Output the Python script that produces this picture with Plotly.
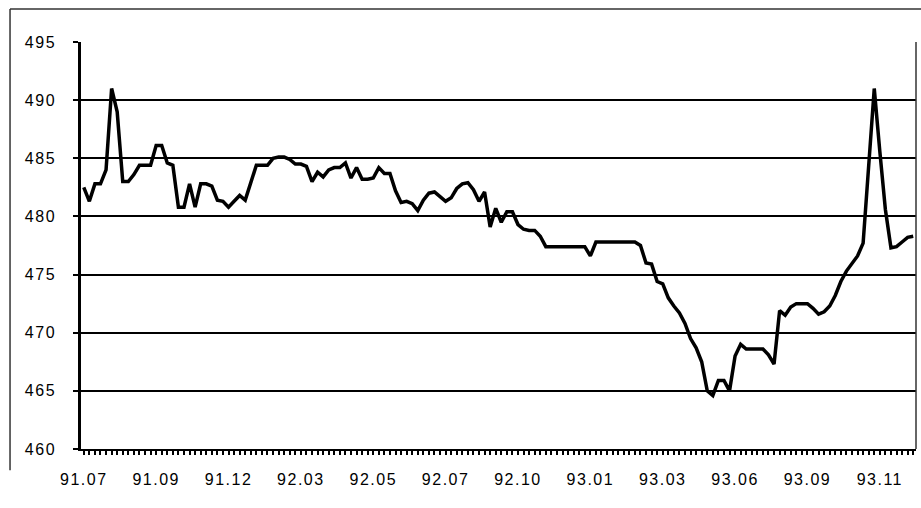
import plotly.graph_objects as go

# weekly index values
values = [
    482.5, 481.3, 482.8, 482.8, 484.0, 491.0, 489.0, 483.0, 483.0, 483.6,
    484.4, 484.4, 484.4, 486.1, 486.1, 484.6, 484.4, 480.8, 480.8, 482.8,
    480.8, 482.8, 482.8, 482.6, 481.4, 481.3, 480.8, 481.3, 481.8, 481.4,
    483.0, 484.4, 484.4, 484.4, 485.0, 485.1, 485.1, 484.9, 484.5, 484.5,
    484.3, 483.0, 483.8, 483.4, 484.0, 484.2, 484.2, 484.6, 483.3, 484.2,
    483.2, 483.2, 483.3, 484.2, 483.7, 483.7, 482.2, 481.2, 481.3, 481.1,
    480.5, 481.4, 482.0, 482.1, 481.7, 481.3, 481.6, 482.4, 482.8, 482.9,
    482.3, 481.3, 482.1, 479.1, 480.7, 479.5, 480.4, 480.4, 479.3, 478.9,
    478.8, 478.8, 478.3, 477.4, 477.4, 477.4, 477.4, 477.4, 477.4, 477.4,
    477.4, 476.6, 477.8, 477.8, 477.8, 477.8, 477.8, 477.8, 477.8, 477.8,
    477.5, 476.0, 475.9, 474.4, 474.2, 473.0, 472.3, 471.7, 470.8, 469.5,
    468.7, 467.5, 465.0, 464.6, 465.9, 465.9, 465.0, 468.0, 469.0, 468.6,
    468.6, 468.6, 468.6, 468.1, 467.3, 471.9, 471.5, 472.2, 472.5, 472.5,
    472.5, 472.1, 471.6, 471.8, 472.3, 473.2, 474.4, 475.3, 476.0, 476.6,
    477.7, 484.2, 491.0, 485.6, 480.6, 477.3, 477.4, 477.8, 478.2, 478.3,
]
tick_labels = ["91.07", "91.09", "91.12", "92.03", "92.05", "92.07",
               "92.10", "93.01", "93.03", "93.06", "93.09", "93.11"]
label_step = 13

x = list(range(len(values)))

fig = go.Figure(
    go.Scatter(x=x, y=values, mode="lines",
               line=dict(color="black", width=3.5), hoverinfo="y")
)

font = dict(family="Liberation Sans, Arial, sans-serif", size=16, color="black")

fig.update_layout(
    width=921, height=508,
    margin=dict(l=81, r=5, t=42, b=59),
    paper_bgcolor="white", plot_bgcolor="white",
    showlegend=False,
    font=font,
    xaxis=dict(
        range=[-0.5, len(values) - 0.5],
        tickmode="array",
        tickvals=[i * label_step for i in range(len(tick_labels))],
        ticktext=tick_labels,
        ticks="outside", ticklen=4, tickwidth=1.5, tickcolor="black",
        minor=dict(dtick=1, tick0=0, ticks="outside", ticklen=4,
                   tickwidth=1.5, tickcolor="black", showgrid=False),
        showgrid=False, zeroline=False,
        showline=True, linecolor="black", linewidth=2,
        ticklabelstandoff=11,
    ),
    yaxis=dict(
        range=[460, 495], dtick=5, tick0=460,
        showgrid=True, gridcolor="black", gridwidth=1.5,
        ticks="outside", ticklen=5, tickwidth=1.5, tickcolor="black",
        showline=True, linecolor="black", linewidth=2.5,
        zeroline=False,
        ticklabelstandoff=14,
    ),
    shapes=[
        # right edge of the plot box
        dict(type="line", xref="paper", yref="paper", x0=1, x1=1,
             y0=0, y1=1, line=dict(color="#333", width=1.5)),
        # page frame of the scan
        dict(type="line", xref="paper", yref="paper", x0=-0.085, x1=1.006,
             y0=1.081, y1=1.081, line=dict(color="#333", width=1.5)),
        dict(type="line", xref="paper", yref="paper", x0=-0.085, x1=-0.085,
             y0=1.081, y1=-0.052, line=dict(color="#333", width=1.5)),
    ],
)

# drop the default 8px body margin and space the tick digits like the print
post = (
    "document.body.style.margin = '0';"
    "document.querySelectorAll('.xtick text, .ytick text')"
    ".forEach(function(t){ t.style.letterSpacing = '1.5px'; });"
)
fig.write_html("out.html", post_script=post, config={"displayModeBar": False})
